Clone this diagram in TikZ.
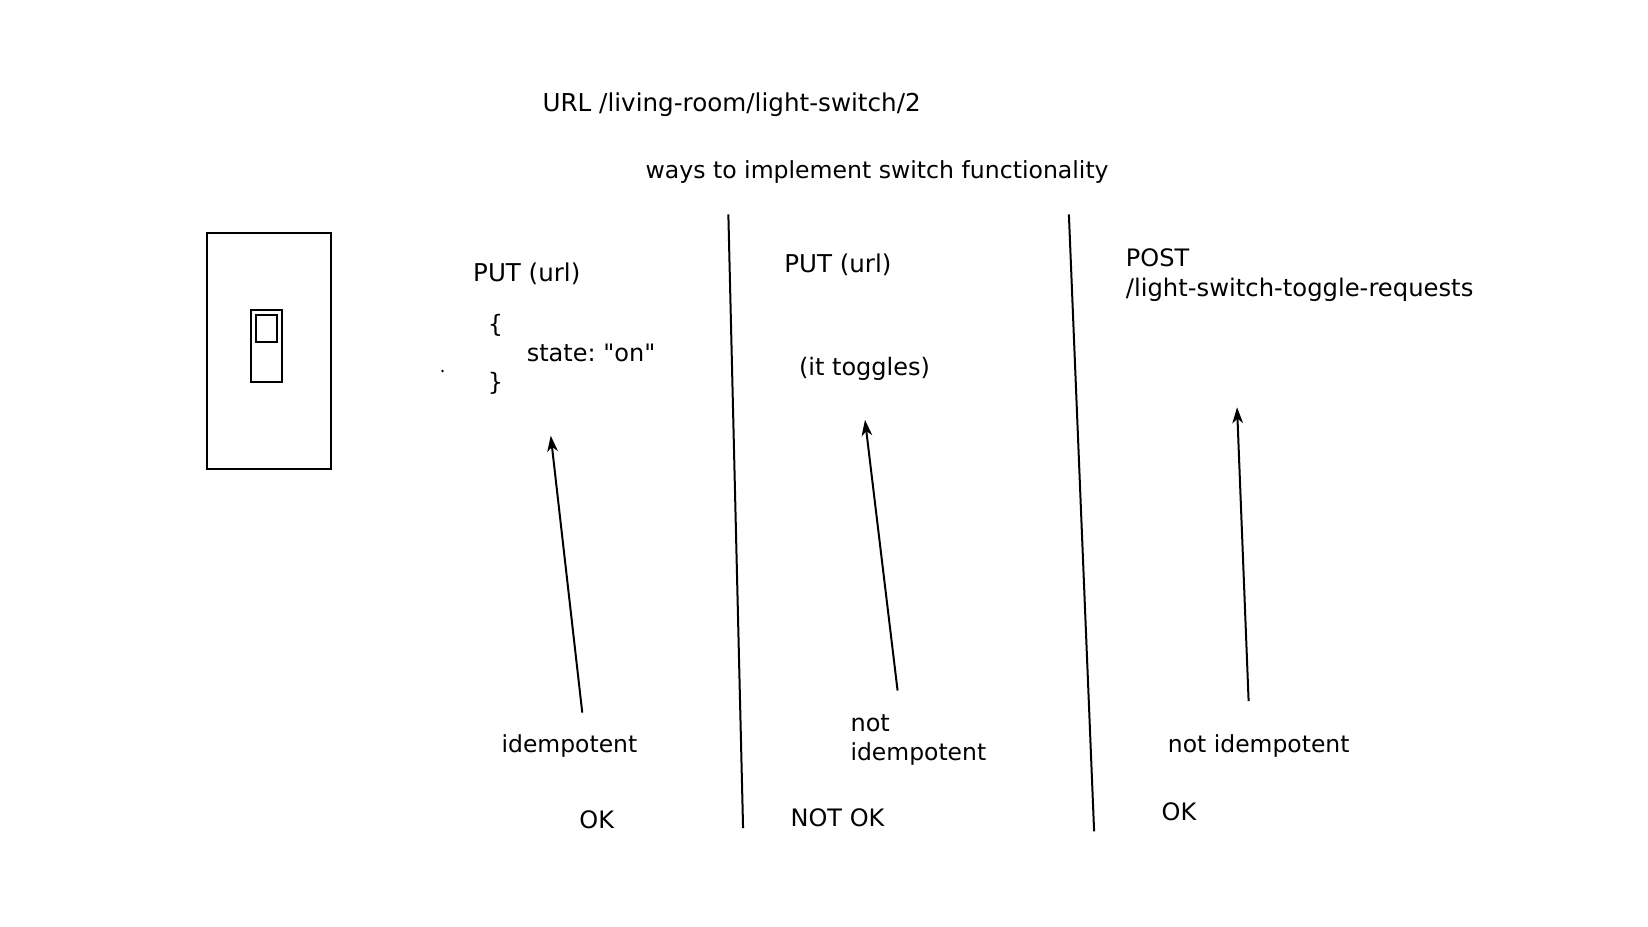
\documentclass[tikz,border=0pt]{standalone}
\usepackage{fontspec}
\newfontfamily\rawfont{DejaVu Sans}
\frenchspacing
\usetikzlibrary{arrows.meta}
\tikzset{
  txt/.style={anchor=base west,inner sep=0pt,font=\rawfont\fontsize{#1}{22}\selectfont},
  txt/.default=18,
  line/.style={line width=1.5pt},
  req/.style={line width=1.5pt,-{Stealth[length=12pt,width=8pt,inset=3.5pt]}}
}
\begin{document}
\begin{tikzpicture}[x=0.7883pt,y=-0.7883pt]
\useasboundingbox (0,0) rectangle (1568,882);

% HEADINGS
\node[txt=18.46] (url) at (516,106) {URL /living-room/light-switch/2};
\node[txt=17.68] (ways) at (614,170) {ways to implement switch functionality};

% SWITCH
\draw[line] (197,222) rectangle (315,446);
\draw[line] (239,295) rectangle (268,363);
\draw[line] (244,300) rectangle (264,325);

% DIVIDERS
\coordinate (divatop) at (693,204);
\coordinate (divabot) at (707,788);
\coordinate (divbtop) at (1017,204);
\coordinate (divbbot) at (1041,791);
\draw[line] (divatop) -- (divabot);
\draw[line] (divbtop) -- (divbbot);

% FIRST WAY
\node[txt=18.4] (puta) at (450,268) {PUT (url)};
\node[txt] (open) at (464,316) {\{};
\node[txt] (state) at (501,344) {state: "on"};
\node[txt] (close) at (464,372) {\}};
\fill (421,353) circle (1pt);
\node[txt=17.6] (idem) at (477,716) {idempotent};
\node[txt] (oka) at (551,788) {OK};
\coordinate (fromidem) at (554,678);
\coordinate (toputa) at (524,414.5);
\draw[req] (fromidem) -- (toputa);

% SECOND WAY
\node[txt=18.4] (putb) at (746,259) {PUT (url)};
\node[txt] (toggles) at (760,357) {(it toggles)};
\node[txt] (nota) at (809,696) {not};
\node[txt=17.6] (idemb) at (809,723.5) {idempotent};
\node[txt] (notok) at (752,786) {NOT OK};
\coordinate (fromnot) at (854,657);
\coordinate (toputb) at (823,399.5);
\draw[req] (fromnot) -- (toputb);

% THIRD WAY
\node[txt] (post) at (1071,254) {POST};
\node[txt=18.2] (toggle) at (1071,282) {/light-switch-toggle-requests};
\node[txt=17.6] (notidem) at (1111,716) {not idempotent};
\node[txt] (okb) at (1105,781) {OK};
\coordinate (frompost) at (1188,667);
\coordinate (topost) at (1177,387.5);
\draw[req] (frompost) -- (topost);

\end{tikzpicture}
\end{document}
